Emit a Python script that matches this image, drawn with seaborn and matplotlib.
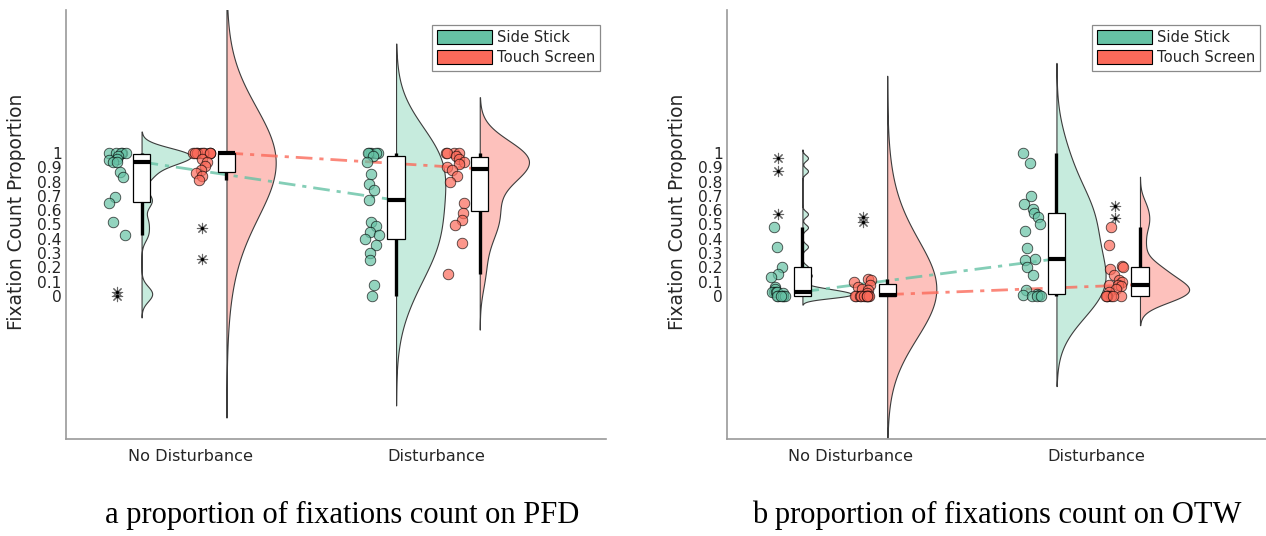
import numpy as np
import pandas as pd
import matplotlib
matplotlib.use("Agg")
import matplotlib.pyplot as plt
from matplotlib.patches import Patch
import seaborn as sns

# ---------------- data ----------------
conditions = ["No Disturbance", "Disturbance"]
groups = ["Side Stick", "Touch Screen"]
captions = ["a proportion of fixations count on PFD",
            "b proportion of fixations count on OTW"]
y_label = "Fixation Count Proportion"
y_ticks = [0, 0.1, 0.2, 0.3, 0.4, 0.5, 0.6, 0.7, 0.8, 0.9, 1]
y_tick_labels = ["0", "0.1", "0.2", "0.3", "0.4", "0.5", "0.6", "0.7", "0.8", "0.9", "1"]

# panel a: PFD
pfd_nodist_ss = [1.0, 1.0, 1.0, 1.0, 1.0, 0.98, 0.96, 0.95, 0.94, 0.935, 0.87, 0.83,
                 0.69, 0.65, 0.52, 0.43, 0.03, 0.0]
pfd_nodist_ts = [1.0, 1.0, 1.0, 1.0, 1.0, 1.0, 1.0, 1.0, 1.0, 1.0, 0.96, 0.94, 0.91,
                 0.88, 0.86, 0.84, 0.81, 0.475, 0.26]
pfd_dist_ss = [1.0, 1.0, 1.0, 1.0, 1.0, 0.98, 0.94, 0.85, 0.78, 0.74, 0.67, 0.52,
               0.49, 0.45, 0.43, 0.40, 0.36, 0.30, 0.25, 0.08, 0.0]
pfd_dist_ts = [1.0, 1.0, 1.0, 1.0, 0.98, 0.96, 0.94, 0.92, 0.90, 0.88, 0.84, 0.80,
               0.65, 0.58, 0.53, 0.50, 0.37, 0.155]

# panel b: OTW
otw_nodist_ss = [0.965, 0.874, 0.573, 0.48, 0.345, 0.20, 0.154, 0.13, 0.06, 0.05,
                 0.03, 0.03, 0.03, 0.03, 0.02, 0.0, 0.0, 0.0, 0.0, 0.0, 0.0]
otw_nodist_ts = [0.55, 0.52, 0.12, 0.11, 0.10, 0.08, 0.065, 0.05, 0.04, 0.02,
                 0.0, 0.0, 0.0, 0.0, 0.0, 0.0, 0.0, 0.0, 0.0, 0.0]
otw_dist_ss = [1.0, 0.93, 0.70, 0.643, 0.606, 0.578, 0.55, 0.503, 0.457, 0.333,
               0.26, 0.25, 0.20, 0.147, 0.04, 0.015, 0.01, 0.005, 0.0, 0.0, 0.0]
otw_dist_ts = [0.63, 0.548, 0.485, 0.357, 0.21, 0.20, 0.19, 0.15, 0.11, 0.10, 0.08,
               0.075, 0.07, 0.05, 0.03, 0.0, 0.0, 0.0, 0.0, 0.0, 0.0]

panels = [
    {("Side Stick", 0): pfd_nodist_ss, ("Touch Screen", 0): pfd_nodist_ts,
     ("Side Stick", 1): pfd_dist_ss, ("Touch Screen", 1): pfd_dist_ts},
    {("Side Stick", 0): otw_nodist_ss, ("Touch Screen", 0): otw_nodist_ts,
     ("Side Stick", 1): otw_dist_ss, ("Touch Screen", 1): otw_dist_ts},
]

# ---------------- style / layout ----------------
# kernel bandwidths (value units) for each half-violin
bandwidths = [
    {("Side Stick", 0): 0.05, ("Touch Screen", 0): 0.37,
     ("Side Stick", 1): 0.255, ("Touch Screen", 1): 0.13},
    {("Side Stick", 0): 0.02, ("Touch Screen", 0): 0.33,
     ("Side Stick", 1): 0.21, ("Touch Screen", 1): 0.068},
]
box_offset = {("Side Stick", 0): -0.197, ("Touch Screen", 0): 0.148,
              ("Side Stick", 1): -0.163, ("Touch Screen", 1): 0.177}
strip_shift = -0.10
VIOLIN_W = 0.2

COLORS = {"Side Stick": "#66c2a5", "Touch Screen": "#fb6a5a"}
LIGHT = {"Side Stick": "#c6ebdd", "Touch Screen": "#fdc1bc"}
TEXT = "#262626"
AXC = "#9a9a9a"

sns.set_theme(style="white")
plt.rcParams["font.family"] = ["DejaVu Sans"]
np.random.seed(7)

W, H = 1266, 536
fig = plt.figure(figsize=(W / 100, H / 100), dpi=100)
ax_rects = [[66 / W, (H - 439) / H, 540 / W, 429 / H],
            [727 / W, (H - 439) / H, 539 / W, 429 / H]]
caption_x = [342 / W, 997 / W]


def outlier_split(vals):
    q1, q3 = np.percentile(vals, [25, 75])
    iqr = q3 - q1
    lo, hi = q1 - 1.5 * iqr, q3 + 1.5 * iqr
    inl = vals[(vals >= lo) & (vals <= hi)]
    out = vals[(vals < lo) | (vals > hi)]
    return inl, out


for p, data in enumerate(panels):
    ax = fig.add_axes(ax_rects[p])
    medians = {g: [] for g in groups}
    xs = {g: [] for g in groups}
    for c in range(len(conditions)):
        base = c + 1
        for g in groups:
            vals = np.asarray(data[(g, c)], dtype=float)
            pos = base + box_offset[(g, c)]
            # half violin (right side of the box)
            df = pd.DataFrame({"x": pos + VIOLIN_W / 2, "y": vals, "side": "R"})
            factor = bandwidths[p][(g, c)] / vals.std(ddof=1)
            sns.violinplot(data=df, x="x", y="y", hue="side", hue_order=["L", "R"],
                           palette={"L": LIGHT[g], "R": LIGHT[g]}, split=True,
                           native_scale=True, orient="x", dodge=False, inner=None,
                           width=VIOLIN_W, density_norm="width", bw_method=factor,
                           cut=3, gridsize=400, linecolor="#3c3c3c", linewidth=0.8,
                           saturation=1, legend=False, ax=ax)
            # box
            sns.boxplot(x=[pos] * len(vals), y=vals, native_scale=True, orient="x",
                        width=0.07, color="white", linecolor="black", linewidth=0.9,
                        showfliers=False, showcaps=False, saturation=1,
                        whiskerprops={"linewidth": 2.4},
                        medianprops={"linewidth": 3.0, "color": "black"}, ax=ax)
            # raw points
            inl, out = outlier_split(vals)
            sns.stripplot(x=[pos + strip_shift] * len(inl), y=inl, native_scale=True,
                          orient="x", jitter=0.038, color=COLORS[g], edgecolor="black",
                          linewidth=0.6, size=7.6, alpha=0.7, zorder=3, ax=ax)
            if len(out):
                ox = [pos + strip_shift] * len(out)
                sns.scatterplot(x=ox, y=out, marker=(8, 2, 0), color="#666666", s=55,
                                linewidth=0.8, zorder=4, legend=False, ax=ax)
                sns.scatterplot(x=ox, y=out, marker="o", color="black", s=6,
                                linewidth=0, zorder=5, legend=False, ax=ax)
            medians[g].append(float(np.median(vals)))
            xs[g].append(pos)
    for g in groups:
        sns.lineplot(x=xs[g], y=medians[g], color=COLORS[g],
                     linestyle=(0, (6, 2.5, 1.5, 2.5)), linewidth=2.0, alpha=0.8,
                     zorder=1.5, legend=False, ax=ax)

    ax.set_xlim(0.496, 2.69)
    ax.set_ylim(-1, 2)
    ax.set_xticks([1, 2], conditions)
    ax.set_yticks(y_ticks, y_tick_labels)
    ax.tick_params(axis="both", direction="in", length=4, width=1, color=AXC,
                   labelcolor=TEXT)
    ax.tick_params(axis="y", labelsize=11.2, pad=3)
    ax.tick_params(axis="x", labelsize=11.6, pad=7)
    for s in ["top", "right"]:
        ax.spines[s].set_visible(False)
    for s in ["left", "bottom"]:
        ax.spines[s].set_color(AXC)
        ax.spines[s].set_linewidth(1.2)
    ax.set_xlabel("")
    ax.set_ylabel(y_label, fontsize=13.4, color=TEXT)
    ax.yaxis.set_label_coords(-0.074, 0.529)

    handles = [Patch(facecolor=COLORS[g], edgecolor="black", linewidth=0.8, label=g)
               for g in groups]
    leg = ax.legend(handles=handles, loc="upper right", bbox_to_anchor=(0.989, 0.965),
                    borderaxespad=0, fontsize=10.6, frameon=True, fancybox=False,
                    edgecolor="#8a8a8a", framealpha=1, handlelength=3.75,
                    handleheight=1.08, labelspacing=0.36, handletextpad=0.3,
                    borderpad=0.35)
    leg.get_frame().set_linewidth(0.9)

    fig.text(caption_x[p], 1 - 515 / H, captions[p], ha="center", va="center",
             fontsize=22, family="Liberation Serif", color="black")

fig.savefig("out.png", dpi=100)
